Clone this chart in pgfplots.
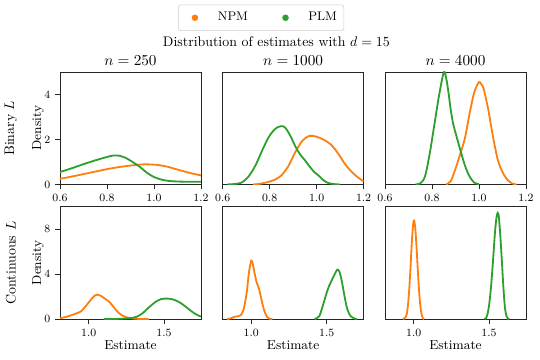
\documentclass[border=0pt]{standalone}
\usepackage{pgfplots}
\pgfplotsset{compat=1.18}
\definecolor{npm}{HTML}{FF7F0E}
\definecolor{plm}{HTML}{2CA02C}
\pgfplotsset{
  kde/.style={
    scale only axis, width=101.5pt, height=81pt, anchor=north west,
    axis line style={black!85, line width=0.6pt},
    tick align=outside, tick pos=left, major tick length=3.5pt,
    every tick/.style={black!85, line width=0.6pt},
    tick label style={font=\fontsize{8}{9}\selectfont},
    xticklabel style={/pgf/number format/fixed, /pgf/number format/fixed zerofill,
      /pgf/number format/precision=1},
    every axis title/.style={at={(0.5,1)}, anchor=base, yshift=4.3pt,
      font=\fontsize{10.5}{12}\selectfont},
    every axis x label/.style={at={(0.5,0)}, anchor=base, yshift=-21.6pt,
      font=\fontsize{9.4}{11}\selectfont},
    every axis y label/.style={at={([xshift=-15.8pt]rel axis cs:0,0.5)}, rotate=90,
      anchor=center, font=\fontsize{9.4}{11}\selectfont},
    ymin=0,
  },
  rowA/.style={kde, xmin=0.6, xmax=1.2, xtick={0.6,0.8,1.0,1.2}, ymax=5},
  rowB/.style={kde, xmin=0.81, xmax=1.745, xtick={1.0,1.5}, ymax=10, xlabel=Estimate},
  npmline/.style={npm, line width=1.3pt, smooth, no marks},
  plmline/.style={plm, line width=1.3pt, smooth, no marks},
}

\begin{document}
\begin{tikzpicture}
\useasboundingbox (0,0) rectangle (388.8pt,-258.5pt);

% ---- binary L, n = 250
\begin{axis}[rowA, name=a1, at={(43.2pt,-51.8pt)}, title={$n = 250$},
  ytick={0,2,4}, ylabel=Density,
  legend columns=2,
  legend image code/.code={\path[draw=none,fill=none] (-9pt,-3pt) rectangle (14.5pt,3pt);
    \draw[#1] plot coordinates {(0pt,0pt)};},
  legend style={at={(1.4266,1.4815)}, anchor=center, draw=black!20,
    rounded corners=2pt, font=\fontsize{9}{11}\selectfont, inner ysep=3.5pt,
    /tikz/every even column/.append style={column sep=16pt}},
]
\addlegendimage{only marks, mark=*, mark size=2.1pt, npm}
\addlegendentry{NPM}
\addlegendimage{only marks, mark=*, mark size=2.1pt, plm}
\addlegendentry{PLM}
\addplot[npmline, forget plot] coordinates {
(0.60,0.25) (0.65,0.35) (0.70,0.46) (0.75,0.57) (0.80,0.68) (0.85,0.77)
(0.90,0.84) (0.95,0.89) (0.98,0.89) (1.02,0.86) (1.06,0.78) (1.10,0.66)
(1.15,0.52) (1.20,0.40)};
\addplot[plmline, forget plot] coordinates {
(0.60,0.55) (0.65,0.72) (0.70,0.90) (0.75,1.07) (0.80,1.22) (0.83,1.29)
(0.85,1.28) (0.88,1.18) (0.91,0.99) (0.94,0.78) (0.97,0.52) (1.00,0.33)
(1.03,0.22) (1.06,0.16) (1.10,0.13) (1.15,0.12) (1.20,0.12)};
\end{axis}

% ---- binary L, n = 1000
\begin{axis}[rowA, at={(160.3pt,-51.8pt)}, title={$n = 1000$}, ytick=\empty]
\addplot[npmline] coordinates {
(0.73,0.00) (0.76,0.03) (0.79,0.10) (0.82,0.20) (0.85,0.40) (0.88,0.82)
(0.91,1.45) (0.94,1.95) (0.97,2.16) (1.00,2.12) (1.03,1.99) (1.06,1.78)
(1.09,1.40) (1.12,0.92) (1.15,0.55) (1.18,0.28) (1.20,0.14)};
\addplot[plmline] coordinates {
(0.62,0.00) (0.65,0.02) (0.68,0.08) (0.71,0.35) (0.74,0.85) (0.77,1.55)
(0.80,2.17) (0.83,2.52) (0.855,2.59) (0.87,2.48) (0.89,2.12) (0.91,1.68)
(0.93,1.33) (0.95,1.08) (0.97,0.80) (0.99,0.55) (1.01,0.38) (1.03,0.18)
(1.05,0.06) (1.08,0.01) (1.10,0.00)};
\end{axis}

% ---- binary L, n = 4000
\begin{axis}[rowA, at={(277.2pt,-51.8pt)}, title={$n = 4000$}, ytick=\empty]
\addplot[npmline] coordinates {
(0.86,0.00) (0.88,0.15) (0.90,0.70) (0.92,1.35) (0.94,2.05) (0.96,3.15)
(0.98,4.10) (1.00,4.55) (1.01,4.45) (1.02,4.25) (1.04,3.30) (1.06,2.10)
(1.08,1.10) (1.10,0.55) (1.12,0.22) (1.14,0.05) (1.16,0.00)};
\addplot[plmline] coordinates {
(0.73,0.00) (0.75,0.05) (0.77,0.35) (0.79,1.35) (0.81,2.65) (0.83,3.95)
(0.85,4.98) (0.86,4.75) (0.87,4.10) (0.88,3.30) (0.89,2.70) (0.90,2.30)
(0.92,1.55) (0.94,0.85) (0.96,0.35) (0.98,0.08) (1.00,0.01)};
\end{axis}

% ---- continuous L, n = 250
\begin{axis}[rowB, name=b1, at={(43.2pt,-148.8pt)}, ytick={0,4,8}, ylabel=Density]
\addplot[npmline] coordinates {
(0.81,0.08) (0.85,0.20) (0.90,0.42) (0.95,0.70) (0.98,1.15) (1.01,1.65)
(1.04,2.10) (1.06,2.18) (1.08,2.08) (1.11,1.80) (1.14,1.50) (1.17,1.00)
(1.20,0.55) (1.23,0.28) (1.26,0.13) (1.30,0.05) (1.35,0.01) (1.40,0.00)};
\addplot[plmline] coordinates {
(1.10,0.00) (1.20,0.03) (1.28,0.10) (1.32,0.22) (1.36,0.55) (1.40,1.05)
(1.44,1.50) (1.48,1.78) (1.52,1.83) (1.56,1.75) (1.60,1.52) (1.64,1.15)
(1.68,0.72) (1.71,0.45) (1.745,0.22)};
\end{axis}

% ---- continuous L, n = 1000
\begin{axis}[rowB, at={(160.3pt,-148.8pt)}, ytick=\empty]
\addplot[npmline] coordinates {
(0.84,0.00) (0.87,0.10) (0.89,0.22) (0.91,0.25) (0.93,0.35) (0.95,0.90)
(0.97,2.40) (0.985,4.20) (1.00,5.20) (1.01,4.90) (1.02,4.20) (1.035,3.30)
(1.05,2.75) (1.06,2.20) (1.075,1.30) (1.09,0.60) (1.105,0.20) (1.12,0.04)
(1.14,0.00)};
\addplot[plmline] coordinates {
(1.42,0.00) (1.45,0.25) (1.47,1.00) (1.49,1.90) (1.51,2.75) (1.53,3.35)
(1.55,3.90) (1.57,4.40) (1.585,4.20) (1.60,3.40) (1.615,2.30) (1.63,1.25)
(1.645,0.60) (1.66,0.25) (1.68,0.08) (1.70,0.00)};
\end{axis}

% ---- continuous L, n = 4000
\begin{axis}[rowB, at={(277.2pt,-148.8pt)}, ytick=\empty]
\addplot[npmline] coordinates {
(0.93,0.00) (0.95,0.25) (0.96,0.95) (0.97,2.50) (0.98,4.80) (0.99,7.30)
(1.00,8.75) (1.01,8.20) (1.02,6.20) (1.03,3.80) (1.04,1.80) (1.05,0.60)
(1.06,0.12) (1.07,0.00)};
\addplot[plmline] coordinates {
(1.47,0.00) (1.48,0.10) (1.49,0.45) (1.50,1.20) (1.51,2.40) (1.52,4.00)
(1.53,5.90) (1.54,7.80) (1.55,9.10) (1.558,9.45) (1.565,9.10) (1.575,7.40)
(1.585,5.20) (1.595,2.90) (1.605,1.10) (1.615,0.30) (1.625,0.05) (1.635,0.00)};
\end{axis}

% row labels and figure title
\node[rotate=90, font=\fontsize{10}{12}\selectfont] at ([xshift=-35.4pt]a1.west) {Binary $L$};
\node[rotate=90, font=\fontsize{10}{12}\selectfont] at ([xshift=-35.4pt]b1.west) {Continuous $L$};
\node[anchor=base, font=\fontsize{10}{12}\selectfont] at (199pt,-33.6pt)
  {Distribution of estimates with $d = 15$};
\end{tikzpicture}
\end{document}
